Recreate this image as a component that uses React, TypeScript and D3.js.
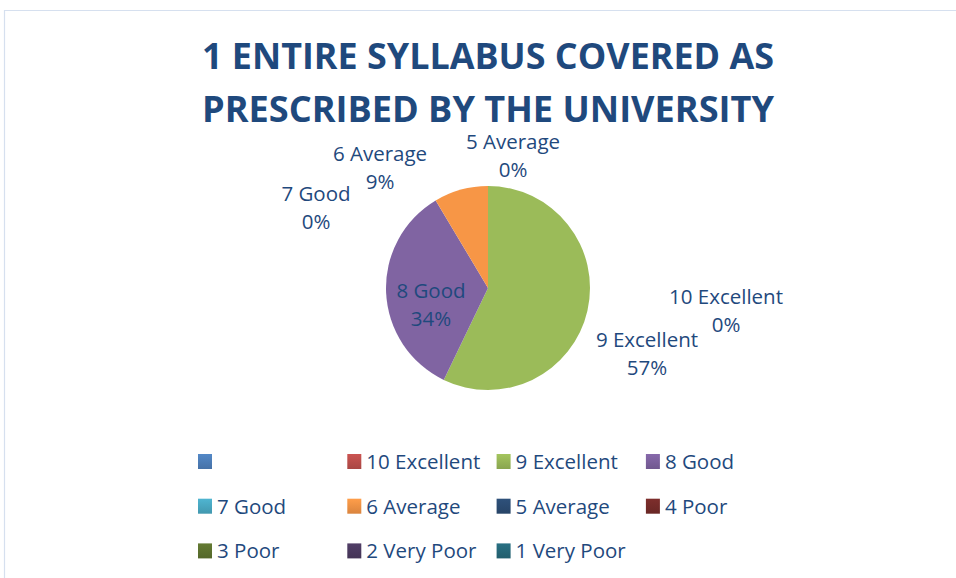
import * as d3 from 'd3';
import React from 'react';

// chart data
const categories = ['', '10 Excellent', '9 Excellent', '8 Good', '7 Good', '6 Average', '5 Average', '4 Poor', '3 Poor', '2 Very Poor', '1 Very Poor'];
const counts: (number | null)[] = [null, 0, 20, 12, 0, 3, 0, null, null, null, null];
const colors = ['#4f81bd', '#c0504d', '#9bbb59', '#8064a2', '#4bacc6', '#f79646', '#2c4d75', '#772c2a', '#5f7530', '#4d3b62', '#276a7c'];
const titleLines = ['1 ENTIRE SYLLABUS COVERED AS', 'PRESCRIBED BY THE UNIVERSITY'];

// label placement (offset from pie centre, Excel "best fit" positions)
const labelOffsets: Record<string, [number, number]> = {
	'10 Excellent': [238, 30],
	'9 Excellent': [159, 73],
	'8 Good': [-57, 24],
	'7 Good': [-172, -73],
	'6 Average': [-108, -113],
	'5 Average': [25, -125],
};

const W = 956;
const H = 578;
const cx = 488;
const cy = 288;
const R = 102;
const textColor = '#1f497d';
const font = "'Open Sans', sans-serif";

const App = () => {
	const total = d3.sum(counts, (d) => d ?? 0);
	const pie = d3.pie<number>().sort(null).value((d) => d);
	const arcs = pie(counts.map((d) => d ?? 0));
	const arc = d3.arc<d3.PieArcDatum<number>>().innerRadius(0).outerRadius(R);
	const pct = d3.format('.0%');

	const legendX = d3.scaleLinear().domain([0, 1]).range([198, 347.3]);
	const legendY = d3.scaleLinear().domain([0, 1]).range([461.5, 506.2]);

	return (
		<svg width={W} height={H} style={{ position: 'absolute', left: 0, top: 0, background: '#fff' }}>
			<defs>
				{colors.map((c, i) => (
					<linearGradient key={i} id={`pg${i}`} gradientUnits="userSpaceOnUse" x1={0} y1={cy - R} x2={0} y2={cy + R}>
						<stop offset="0%" stopColor={c} />
						<stop offset="100%" stopColor={d3.color(c)!.darker(0.5).formatHex()} />
					</linearGradient>
				))}
				{colors.map((c, i) => (
					<linearGradient key={i} id={`lg${i}`} x1={0} y1={0} x2={0} y2={1}>
						<stop offset="0%" stopColor={d3.color(c)!.brighter(0.15).formatHex()} />
						<stop offset="100%" stopColor={d3.color(c)!.darker(0.35).formatHex()} />
					</linearGradient>
				))}
			</defs>
			<path d={`M4.5,${H} V10.5 H${W}`} fill="none" stroke="#d6e0ef" strokeWidth={1.2} />

			{titleLines.map((t, i) => (
				<text key={i} x={cx} y={69 + i * 53} textAnchor="middle" fontFamily={font} fontWeight={700}
					fontSize={36} fill={textColor} textLength={572} lengthAdjust="spacingAndGlyphs">{t}</text>
			))}

			<g transform={`translate(${cx},${cy})`}>
				{arcs.map((a, i) => (a.value > 0 ? <path key={i} d={arc(a) ?? ''} fill={`url(#pg${i})`} /> : null))}
			</g>

			{categories.map((c, i) => {
				const off = labelOffsets[c];
				if (!off || counts[i] === null) return null;
				return (
					<text key={c} x={cx + off[0]} y={cy + off[1]} textAnchor="middle" fontFamily={font} fontSize={20.5} fill={textColor}>
						<tspan x={cx + off[0]} dy={-14.5}>{c}</tspan>
						<tspan x={cx + off[0]} dy={28}>{pct((counts[i] ?? 0) / total)}</tspan>
					</text>
				);
			})}

			{categories.map((c, i) => {
				const col = i % 4;
				const row = Math.floor(i / 4);
				const x = legendX(col);
				const y = legendY(row);
				return (
					<g key={i}>
						<rect x={x} y={y - 7.5} width={14} height={15} fill={`url(#lg${i})`} />
						<text x={x + 19} y={y + 7.5} fontFamily={font} fontSize={20.5} fill={textColor}>{c}</text>
					</g>
				);
			})}
		</svg>
	);
};

export default App;
